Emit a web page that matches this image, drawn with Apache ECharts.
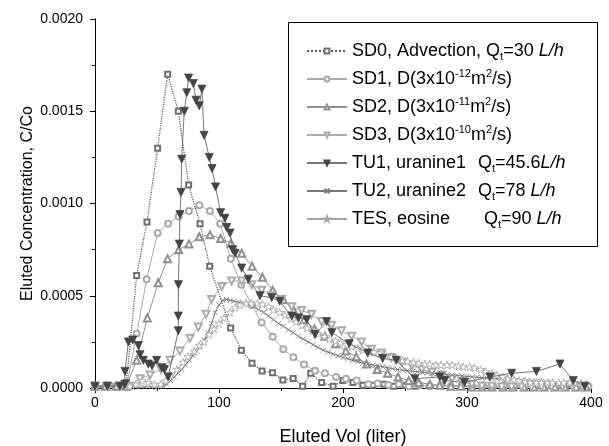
<!DOCTYPE html>
<html>
<head>
<meta charset="utf-8">
<script src="https://cdn.jsdelivr.net/npm/echarts@6/dist/echarts.min.js"></script>
<style>
  html, body { margin: 0; padding: 0; background: #fff; }
  #chart { width: 609px; height: 446px; }
</style>
</head>
<body>
<div id="chart"></div>
<script>
// data: [eluted volume (liter), C/Co]
var sd0 = [[0,0.1e-4],[8.7,0.1e-4],[17,0.1e-4],[25.3,0.3e-4],[33.6,6.1e-4],[41.9,9.0e-4],[50.5,13.0e-4],[58.6,17.0e-4],
  [67.2,15.0e-4],[75.5,11.0e-4],[84.7,8.9e-4],[92.5,6.6e-4],[109.4,3.25e-4],[118,2.05e-4],[126.6,1.34e-4],[134.7,0.92e-4],
  [143.2,0.82e-4],[151.5,0.43e-4],[159.8,0.52e-4],[167.5,0.1e-4],[174,0.8e-4],[182.8,0.3e-4],[192,0.1e-4],[200,0.4e-4],
  [208,0.3e-4],[216,0.15e-4],[224,0.15e-4],[233,0.2e-4],[241,0.1e-4],[250,0.15e-4],[258,0.1e-4]];

var sd1 = [[0,0.1e-4],[8.5,0.1e-4],[17,0.1e-4],[25.5,0.1e-4],[33.6,2.96e-4],[41.7,5.9e-4],[50.5,8.4e-4],[58.9,8.9e-4],
  [67.5,9.3e-4],[75.8,9.6e-4],[84.1,9.9e-4],[92.7,9.6e-4],[101,8.9e-4],[109.5,7.0e-4],[118,5.6e-4],[126.3,4.5e-4],
  [134.4,3.55e-4],[143.3,2.78e-4],[151.9,2.1e-4],[160,1.66e-4],[168.6,1.27e-4],[177.4,0.94e-4],[185.5,0.8e-4],[194.4,0.6e-4],
  [202.4,0.5e-4],[211,0.4e-4],[220.4,0.2e-4],[228,0.25e-4],[236.5,0.16e-4],[245,0.2e-4],[253,0.1e-4],[262,0.15e-4],
  [270,0.1e-4],[279,0.15e-4],[287,0.1e-4],[296,0.15e-4],[304,0.1e-4],[313,0.15e-4],[321,0.1e-4],[330,0.15e-4],
  [338,0.1e-4],[347,0.15e-4],[355,0.1e-4],[364,0.15e-4],[372,0.1e-4],[381,0.2e-4],[389,0.15e-4],[398,0.1e-4]];

var sd2 = [[0,0.1e-4],[8.5,0.1e-4],[17,0.1e-4],[25.3,0.1e-4],[33.6,1.5e-4],[42.2,3.8e-4],[51,5.7e-4],[58.6,7.0e-4],
  [67.5,7.5e-4],[75.8,7.8e-4],[84.1,8.2e-4],[92.7,8.3e-4],[101.3,8.1e-4],[109.7,7.85e-4],[118.3,7.3e-4],[126.7,6.6e-4],
  [135,6.0e-4],[143.3,5.3e-4],[151.9,4.8e-4],[160.3,4.2e-4],[168.6,3.7e-4],[177,3.2e-4],[185.4,2.8e-4],[194,2.4e-4],
  [202.3,2.0e-4],[210.7,1.7e-4],[219,1.3e-4],[227.6,1.0e-4],[236,0.8e-4],[244.4,0.6e-4],[253,0.4e-4],[261,0.3e-4],
  [270,0.2e-4],[278,0.15e-4],[287,0.1e-4],[295,0.1e-4],[304,0.05e-4],[312,0.05e-4],[320,0.05e-4],[329,0.05e-4],
  [337,0.05e-4],[346,0.05e-4],[354,0.05e-4],[362,0.05e-4],[371,0.05e-4],[379,0.05e-4],[388,0.05e-4],[396,0.05e-4]];

var sd3 = [[0,0.1e-4],[10,0.1e-4],[20,0.1e-4],[28,0.1e-4],[36.3,0.5e-4],[44.4,0.7e-4],[53.2,1.0e-4],[60.5,1.5e-4],
  [68.5,2.0e-4],[76.6,2.7e-4],[83.3,3.3e-4],[89.5,4.0e-4],[94,4.8e-4],[102.2,5.5e-4],[110.2,5.8e-4],[118.3,5.8e-4],
  [126.4,5.6e-4],[134.4,5.3e-4],[142.5,5.0e-4],[150.5,4.8e-4],[158.6,4.4e-4],[166.6,4.2e-4],[174.7,4.0e-4],[182.7,3.6e-4],
  [190.8,3.4e-4],[198.8,3.1e-4],[206.9,2.8e-4],[215,2.5e-4],[223,2.1e-4],[231,1.9e-4],[239,1.65e-4],[247.5,1.4e-4],
  [255.5,1.2e-4],[263.6,1.0e-4],[271.7,0.85e-4],[279.7,0.7e-4],[287.8,0.5e-4],[295.8,0.35e-4],[303.9,0.2e-4],[312,0.1e-4],
  [320,0.1e-4],[328,0.05e-4],[336,0.05e-4],[344,0.05e-4],[352,0.05e-4],[360,0.05e-4],[368,0.05e-4],[377,0.05e-4],
  [385,0.05e-4],[393,0.05e-4]];

var tu1 = [[0,0.1e-4],[10,0.1e-4],[20,0.1e-4],[24,0.2e-4],[24.2,0.9e-4],[26.9,2.5e-4],[30.4,2.6e-4],[35,2.3e-4],
  [36.3,1.8e-4],[39,1.5e-4],[43,1.3e-4],[46,1.2e-4],[49.7,1.5e-4],[53.8,1.1e-4],[56,1.0e-4],[59,0.6e-4],
  [67.2,3.1e-4],[67.2,3.9e-4],[67.3,5.6e-4],[68,7.8e-4],[68.5,9.4e-4],[69.4,10.6e-4],[69.9,12.4e-4],[72,15.0e-4],
  [74,16.0e-4],[75.5,16.8e-4],[79.3,16.5e-4],[81.5,15.6e-4],[84.1,15.3e-4],[86.2,16.2e-4],[88,13.7e-4],[92.2,12.5e-4],
  [94.4,11.9e-4],[97.2,10.9e-4],[101.3,9.5e-4],[104.8,9.2e-4],[106.2,8.7e-4],[108.9,8.4e-4],[111,7.5e-4],[113,7.3e-4],
  [118.3,6.5e-4],[123.6,5.9e-4],[133,5.0e-4],[142.5,4.9e-4],[149,4.7e-4],[158.6,3.9e-4],[164,3.8e-4],[170.7,3.7e-4],
  [177.4,2.9e-4],[186.8,3.6e-4],[191,3.0e-4],[205,2.4e-4],[220,1.9e-4],[232,1.6e-4],[243,1.5e-4],[258,0.5e-4],
  [278,0.6e-4],[282,0.4e-4],[298,0.3e-4],[318.5,0.6e-4],[336,0.8e-4],[356,0.9e-4],[375,1.3e-4],[385.7,0.4e-4],[395,0.1e-4]];

var tu2 = [[0,0.05e-4],[5,0.05e-4],[10,0.05e-4],[15,0.05e-4],[20,0.05e-4],[25,0.05e-4],[30,0.05e-4],[35,0.05e-4],
  [40,0.05e-4],[45,0.05e-4],[50,0.05e-4],[55,0.1e-4],[58,0.2e-4],[61,0.4e-4],[64,0.6e-4],[67,0.8e-4],[70,1.0e-4],
  [73,1.25e-4],[76,1.5e-4],[79,1.75e-4],[82,2.0e-4],[85,2.25e-4],[88,2.6e-4],[91,3.0e-4],[94,3.5e-4],[97,4.1e-4],
  [100,4.5e-4],[103,4.75e-4],[106,4.8e-4],[109,4.75e-4],[112,4.7e-4],[116,4.65e-4],[120,4.6e-4],[124,4.5e-4],
  [128,4.4e-4],[132,4.25e-4],[136,4.1e-4],[140,3.9e-4],[144,3.7e-4],[148,3.5e-4],[152,3.35e-4],[156,3.15e-4],
  [160,3.0e-4],[164,2.8e-4],[168,2.65e-4],[172,2.5e-4],[176,2.35e-4],[180,2.2e-4],[184,2.05e-4],[188,1.95e-4],
  [192,1.85e-4],[196,1.75e-4],[200,1.65e-4],[204,1.58e-4],[208,1.5e-4],[212,1.42e-4],[216,1.35e-4],[220,1.3e-4],
  [224,1.25e-4],[228,1.2e-4],[232,1.15e-4],[236,1.1e-4],[240,1.05e-4],[244,1.0e-4],[248,0.97e-4],[252,0.94e-4],
  [256,0.9e-4],[260,0.88e-4],[264,0.85e-4],[268,0.82e-4],[272,0.8e-4],[276,0.77e-4],[280,0.75e-4],[284,0.72e-4],
  [288,0.7e-4],[292,0.68e-4],[296,0.65e-4],[300,0.63e-4],[304,0.6e-4],[308,0.58e-4],[312,0.56e-4],[316,0.54e-4],
  [320,0.52e-4],[324,0.5e-4],[328,0.48e-4],[332,0.46e-4],[336,0.45e-4],[340,0.43e-4],[344,0.42e-4],[348,0.4e-4],
  [352,0.38e-4],[356,0.37e-4],[360,0.35e-4],[364,0.33e-4],[368,0.3e-4],[372,0.27e-4],[376,0.24e-4],[380,0.2e-4],[384,0.15e-4]];

var tes = [[0,0.1e-4],[10,0.1e-4],[20,0.1e-4],[28,0.1e-4],[33,0.2e-4],[38,0.4e-4],[43,0.3e-4],[48,0.2e-4],[53,0.2e-4],
  [57,0.4e-4],[61,0.7e-4],[66,1.0e-4],[71,1.4e-4],[75,1.7e-4],[80,2.0e-4],[84,2.3e-4],[88,2.5e-4],[92,2.9e-4],[96,3.2e-4],
  [100,3.5e-4],[104,3.8e-4],[109,4.1e-4],[113,4.35e-4],[117,4.5e-4],[122,4.6e-4],[126,4.6e-4],[131,4.6e-4],[135,4.55e-4],
  [140,4.4e-4],[144,4.25e-4],[149,4.1e-4],[153,3.95e-4],[158,3.75e-4],[162,3.6e-4],[167,3.4e-4],[171,3.25e-4],[176,3.1e-4],
  [180,2.95e-4],[185,2.8e-4],[189,2.65e-4],[194,2.55e-4],[198,2.45e-4],[203,2.35e-4],[207,2.25e-4],[212,2.15e-4],
  [216,2.05e-4],[221,2.0e-4],[225,1.95e-4],[230,1.9e-4],[234,1.8e-4],[239,1.7e-4],[243,1.6e-4],[248,1.5e-4],[252,1.45e-4],
  [257,1.4e-4],[261,1.35e-4],[266,1.3e-4],[270,1.3e-4],[275,1.25e-4],[279,1.25e-4],[284,1.25e-4],[288,1.25e-4],
  [293,1.2e-4],[297,1.15e-4],[302,1.15e-4],[306,1.1e-4],[311,1.0e-4],[315,0.9e-4],[320,0.8e-4],[324,0.7e-4],[329,0.6e-4],
  [333,0.5e-4],[338,0.45e-4],[342,0.4e-4],[347,0.35e-4],[351,0.3e-4],[356,0.3e-4],[360,0.3e-4],[365,0.3e-4],[369,0.3e-4],
  [374,0.3e-4],[378,0.3e-4],[383,0.3e-4],[387,0.3e-4],[392,0.25e-4],[396,0.2e-4]];

var seriesNames = ['SD0', 'SD1', 'SD2', 'SD3', 'TU1', 'TU2', 'TES'];
var legendText = {
  SD0: 'SD0, Advection, Q{sub|t}=30 {i|L/h}',
  SD1: 'SD1, D(3x10{sup|-12}m{sup|2}/s)',
  SD2: 'SD2, D(3x10{sup|-11}m{sup|2}/s)',
  SD3: 'SD3, D(3x10{sup|-10}m{sup|2}/s)',
  TU1: '{w1|TU1, uranine1}Q{sub|t}=45.6{i|L/h}',
  TU2: '{w1|TU2, uranine2}Q{sub|t}=78 {i|L/h}',
  TES: '{w2|TES, eosine}Q{sub|t}=90 {i|L/h}'
};
var xTicks = [0, 100, 200, 300, 400];

var FONT = '"Liberation Sans", Arial, sans-serif';
var STAR = 'path://M50,0L61,35L98,35L68,57L79,91L50,70L21,91L32,57L2,35L39,35Z';
var CROSS = 'path://M0,0L10,10M0,10L10,0';

var chart = echarts.init(document.getElementById('chart'), null, { renderer: 'canvas' });

function mkSeries(name, data, color, symbol, size, extra) {
  var s = {
    name: name,
    type: 'line',
    data: data,
    symbol: symbol,
    symbolSize: size,
    showAllSymbol: true,
    animation: false,
    lineStyle: { color: color, width: 1 },
    itemStyle: { color: color, borderColor: color, borderWidth: 0.8 },
    z: 2
  };
  return Object.assign(s, extra || {});
}

var series = [
  mkSeries('SD0', sd0, '#707070', 'emptyRect', 5, { lineStyle: { color: '#555', width: 1.2, type: 'dotted' } }),
  mkSeries('SD1', sd1, '#aaaaaa', 'emptyCircle', 6),
  mkSeries('SD2', sd2, '#909090', 'emptyTriangle', 7),
  mkSeries('SD3', sd3, '#acacac', 'emptyTriangle', 7, { symbolRotate: 180 }),
  mkSeries('TU1', tu1, '#444444', 'triangle', 8, { symbolRotate: 180, lineStyle: { color: '#777', width: 1 }, z: 3 }),
  mkSeries('TU2', tu2, '#777777', CROSS, 5),
  mkSeries('TES', tes, '#a4a4a4', STAR, 8, { itemStyle: { color: '#fff', borderColor: '#a4a4a4', borderWidth: 0.8 } })
];

var option = {
  backgroundColor: '#fff',
  animation: false,
  textStyle: { fontFamily: FONT, color: '#000' },
  grid: { left: 95, right: 18, top: 19, bottom: 58, outerBoundsMode: 'none', containLabel: false },
  xAxis: [{
    type: 'value', min: 0, max: 400, interval: 100,
    name: 'Eluted Vol (liter)', nameLocation: 'middle', nameGap: 40, nameMoveOverlap: false,
    nameTextStyle: { fontSize: 18, color: '#000', fontFamily: FONT },
    axisLine: { show: true, lineStyle: { color: '#000', width: 1 } },
    axisTick: { show: true, inside: false, length: 5, lineStyle: { color: '#000' } },
    minorTick: { show: true, splitNumber: 2, length: 3, lineStyle: { color: '#000' } },
    axisLabel: { fontSize: 14, color: '#000', margin: 8, fontFamily: FONT,
      formatter: function (v) { return xTicks.indexOf(v) >= 0 ? String(v) : ''; } },
    splitLine: { show: false }
  }, {
    type: 'value', min: 0, max: 400, interval: 100, position: 'top',
    axisLine: { show: true, lineStyle: { color: '#000', width: 1 } },
    axisTick: { show: true, inside: true, length: 5, lineStyle: { color: '#000' } },
    minorTick: { show: true, splitNumber: 2, length: 3, lineStyle: { color: '#000' } },
    axisLabel: { show: false },
    splitLine: { show: false }
  }],
  yAxis: [{
    type: 'value', min: 0, max: 0.002, interval: 0.0005,
    name: 'Eluted Concentration, C/Co', nameLocation: 'middle', nameGap: 59, nameMoveOverlap: false,
    nameTextStyle: { fontSize: 16, color: '#000', fontFamily: FONT },
    axisLine: { show: true, lineStyle: { color: '#000', width: 1 } },
    axisTick: { show: true, inside: false, length: 5, lineStyle: { color: '#000' } },
    minorTick: { show: true, splitNumber: 2, length: 3, lineStyle: { color: '#000' } },
    axisLabel: { fontSize: 14, color: '#000', margin: 12, fontFamily: FONT,
      formatter: function (v) { return v.toFixed(4); } },
    splitLine: { show: false }
  }, {
    type: 'value', min: 0, max: 0.002, interval: 0.0005, position: 'right',
    axisLine: { show: true, lineStyle: { color: '#000', width: 1 } },
    axisTick: { show: true, inside: true, length: 5, lineStyle: { color: '#000' } },
    minorTick: { show: true, splitNumber: 2, length: 3, lineStyle: { color: '#000' } },
    axisLabel: { show: false },
    splitLine: { show: false }
  }],
  legend: {
    data: seriesNames,
    orient: 'vertical',
    left: 306, top: 40,
    padding: 0,
    itemGap: 6,
    itemWidth: 40,
    itemHeight: 6,
    selectedMode: false,
    formatter: function (name) { return legendText[name]; },
    textStyle: {
      fontSize: 18, lineHeight: 22, color: '#000', fontFamily: FONT,
      rich: {
        sub: { fontSize: 11, lineHeight: 12, verticalAlign: 'bottom', color: '#000' },
        sup: { fontSize: 11, lineHeight: 12, verticalAlign: 'top', color: '#000' },
        i: { fontSize: 18, fontStyle: 'italic', color: '#000' },
        w1: { fontSize: 18, width: 126, color: '#000' },
        w2: { fontSize: 18, width: 132, color: '#000' }
      }
    }
  },
  graphic: [{
    type: 'rect', left: 286, top: 20, z: 100, silent: true,
    shape: { width: 309, height: 224 },
    style: { fill: 'none', stroke: '#000', lineWidth: 1 }
  }],
  series: series
};

chart.setOption(option);
</script>
</body>
</html>
